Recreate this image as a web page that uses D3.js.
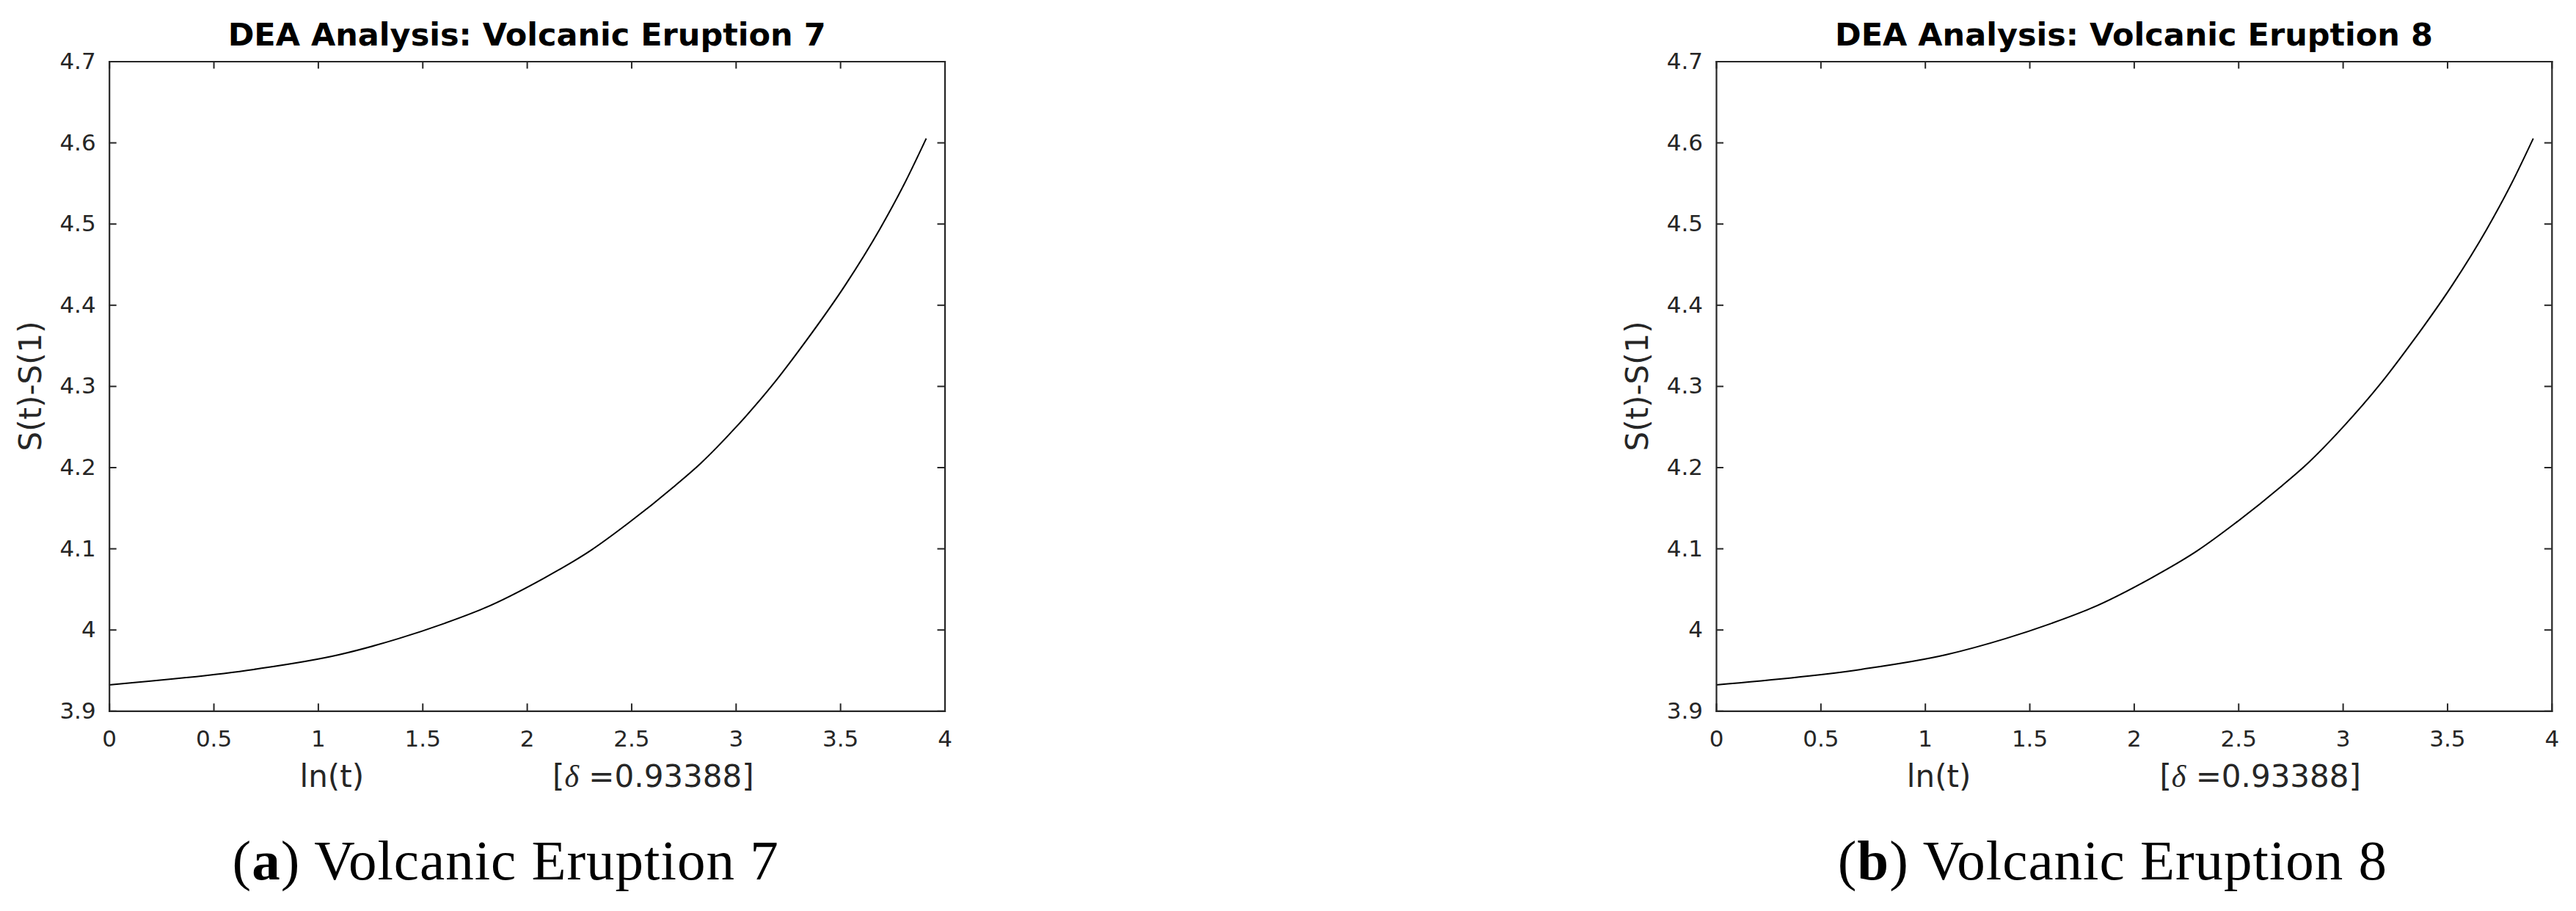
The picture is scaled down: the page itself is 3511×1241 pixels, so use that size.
<!DOCTYPE html>
<html>
<head>
<meta charset="utf-8">
<script src="https://cdn.jsdelivr.net/npm/d3@7"></script>
<style>
  body { margin: 0; background: #ffffff; }
</style>
</head>
<body>
<div id="my_dataviz"></div>
<script>
// Chart data
var lnT = [0, 0.693, 1.099, 1.386, 1.609, 1.792, 2.079, 2.303, 2.485, 2.708, 2.833, 2.996, 3.178, 3.332, 3.526, 3.689, 3.807, 3.912]
var sValues = [3.932, 3.951, 3.969, 3.989, 4.008, 4.026, 4.063, 4.097, 4.131, 4.177, 4.205, 4.248, 4.302, 4.354, 4.425, 4.493, 4.549, 4.605]
var xTicks = [0, 0.5, 1, 1.5, 2, 2.5, 3, 3.5, 4]
var yTicks = [3.9, 4, 4.1, 4.2, 4.3, 4.4, 4.5, 4.6, 4.7]
var panelTitles = ["DEA Analysis: Volcanic Eruption 7", "DEA Analysis: Volcanic Eruption 8"]
var panelLetters = ["a", "b"]
var panelCaptions = [" Volcanic Eruption 7", " Volcanic Eruption 8"]
var deltaText = "0.93388"

// Size of the page and of each plot box
var totalWidth = 3511,
  totalHeight = 1241,
  width = 1138.8,
  height = 884.8,
  plotTop = 83.5,
  panelLeft = [148.7, 2339];

var axisColor = "#262626";

var svg = d3.select("#my_dataviz")
  .append("svg")
  .attr("width", totalWidth)
  .attr("height", totalHeight)
  .style("display", "block");

svg.append("rect")
  .attr("width", totalWidth)
  .attr("height", totalHeight)
  .attr("fill", "#ffffff");

var x = d3.scaleLinear()
  .domain([0, 4])
  .range([0, width]);

var y = d3.scaleLinear()
  .domain([3.9, 4.7])
  .range([height, 0]);

var fmt = d3.format("~g");

var data = lnT.map(function(d, i) {
  return { x: d, y: sValues[i] };
});

function styleAxis(g) {
  g.select(".domain")
    .attr("stroke", axisColor)
    .attr("stroke-width", 2.2)
    .attr("stroke-linecap", "square");
  g.selectAll(".tick line")
    .attr("stroke", axisColor)
    .attr("stroke-width", 2);
  g.selectAll(".tick text")
    .attr("fill", axisColor)
    .style("font-family", "'DejaVu Sans', sans-serif")
    .style("font-size", "31px");
}

panelLeft.forEach(function(left, p) {
  var g = svg.append("g")
    .attr("transform", "translate(" + left + "," + plotTop + ")");

  // Curve
  g.append("path")
    .datum(data)
    .attr("fill", "none")
    .attr("stroke", "#000000")
    .attr("stroke-width", 2)
    .attr("d", d3.line()
      .curve(d3.curveMonotoneX)
      .x(function(d) { return x(d.x) })
      .y(function(d) { return y(d.y) }));

  // Axes, ticks pointing inward, box on
  g.append("g")
    .attr("transform", "translate(0," + height + ")")
    .call(d3.axisBottom(x).tickValues(xTicks).tickFormat(fmt)
      .tickSizeInner(-10).tickSizeOuter(0).tickPadding(27))
    .call(styleAxis);

  g.append("g")
    .call(d3.axisTop(x).tickValues(xTicks).tickFormat("")
      .tickSizeInner(-10).tickSizeOuter(0))
    .call(styleAxis);

  g.append("g")
    .call(d3.axisLeft(y).tickValues(yTicks).tickFormat(fmt)
      .tickSizeInner(-10).tickSizeOuter(0).tickPadding(18))
    .call(styleAxis);

  g.append("g")
    .attr("transform", "translate(" + width + ",0)")
    .call(d3.axisRight(y).tickValues(yTicks).tickFormat("")
      .tickSizeInner(-10).tickSizeOuter(0))
    .call(styleAxis);

  // Title
  g.append("text")
    .attr("x", width / 2)
    .attr("y", 62 - plotTop)
    .attr("text-anchor", "middle")
    .style("font-family", "'DejaVu Sans', sans-serif")
    .style("font-weight", "bold")
    .style("font-size", "43px")
    .attr("fill", "#000000")
    .text(panelTitles[p]);

  // Y label
  g.append("text")
    .attr("transform", "translate(" + (56 - panelLeft[0]) + "," + (height / 2) + ") rotate(-90)")
    .attr("text-anchor", "middle")
    .style("font-family", "'DejaVu Sans', sans-serif")
    .style("font-size", "42px")
    .attr("fill", axisColor)
    .text("S(t)-S(1)");

  // X label with delta
  var xl = g.append("text")
    .attr("x", width / 2)
    .attr("y", 1072 - plotTop)
    .attr("text-anchor", "middle")
    .style("font-family", "'DejaVu Sans', sans-serif")
    .style("font-size", "42px")
    .attr("fill", axisColor);
  xl.append("tspan").text("ln(t)");
  xl.append("tspan").attr("dx", 257).text("[");
  xl.append("tspan")
    .style("font-family", "'Liberation Serif', serif")
    .style("font-style", "italic")
    .text("δ");
  xl.append("tspan").text(" =" + deltaText + "]");

  // Caption under the panel
  var cap = g.append("text")
    .attr("x", width / 2 - 29)
    .attr("y", 1198 - plotTop)
    .attr("text-anchor", "middle")
    .style("font-family", "'Liberation Serif', serif")
    .style("font-size", "77px")
    .style("letter-spacing", "1px")
    .attr("fill", "#000000");
  cap.append("tspan").text("(");
  cap.append("tspan").style("font-weight", "bold").text(panelLetters[p]);
  cap.append("tspan").text(")");
  cap.append("tspan").text(panelCaptions[p]);
});
</script>
</body>
</html>
